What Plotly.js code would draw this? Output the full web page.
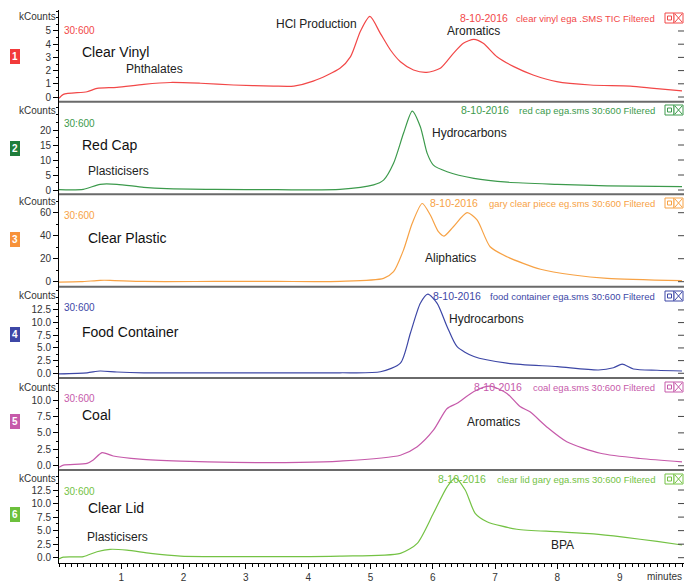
<!DOCTYPE html>
<html>
<head>
<meta charset="utf-8">
<script src="https://cdn.plot.ly/plotly-3.0.1.min.js"></script>
<style>html,body{margin:0;padding:0;background:#fff;}#chart{width:684px;height:583px;}</style>
</head>
<body>
<div id="chart"></div>
<script>
// ---------- DATA (minutes, kCounts) ----------
const vinylT = [0, 0.07, 0.45, 0.61, 0.93, 1.36, 1.79, 2.27, 2.8, 3.44, 3.77, 4.08, 4.51, 4.68, 4.84, 4.99, 5.16, 5.32, 5.48, 5.69, 5.9, 6.12, 6.33, 6.49, 6.66, 6.81, 7.03, 7.3, 7.61, 7.99, 8.53, 9.17, 9.55, 10.0];
const vinylY = [-0.1, 0.2, 0.4, 0.65, 0.73, 0.96, 1.1, 1.04, 0.91, 0.83, 0.83, 1.2, 2.17, 3.06, 5.0, 6.1, 4.8, 3.56, 2.67, 2.05, 1.87, 2.17, 3.3, 4.07, 4.37, 4.07, 3.05, 2.3, 1.67, 1.16, 0.91, 0.83, 0.66, 0.47];

const redcapT = [0, 0.39, 0.66, 0.93, 1.36, 1.73, 2.5, 3.5, 4.51, 5.05, 5.21, 5.37, 5.53, 5.67, 5.8, 5.91, 6.01, 6.23, 6.66, 7.2, 8.0, 8.8, 10.0];
const redcapY = [0.1, 0.2, 1.9, 1.9, 0.9, 0.45, 0.2, 0.1, 0.2, 1.7, 3.3, 8.9, 18.9, 26.3, 21.1, 12.2, 8.3, 6.1, 3.9, 2.6, 1.9, 1.4, 1.1];

const plasticT = [0, 0.35, 0.66, 0.82, 1.36, 2.5, 3.5, 4.51, 5.21, 5.37, 5.53, 5.67, 5.83, 5.96, 6.09, 6.18, 6.33, 6.55, 6.71, 6.92, 7.19, 7.73, 8.26, 8.8, 10.0];
const plasticY = [-0.3, 0, 1.2, 1.2, 0.2, 0.2, 0.2, 0.3, 2.9, 8.7, 27.6, 50.8, 68, 58, 43.5, 39.7, 47.8, 60, 53.7, 30.4, 21.7, 10.8, 5.8, 2.9, 0.9];

const foodT = [0, 0.45, 0.66, 0.93, 1.36, 2.5, 3.5, 4.51, 5.16, 5.48, 5.64, 5.8, 5.92, 6.07, 6.23, 6.39, 6.66, 7.19, 8.0, 8.66, 8.9, 9.04, 9.22, 9.6, 10.0];
const foodY = [-0.1, 0.1, 0.45, 0.25, 0.1, 0.1, 0.1, 0.1, 0.3, 2.0, 7.9, 13.8, 15.6, 13.8, 9.2, 5.25, 3.3, 2.0, 1.3, 0.65, 1.1, 1.8, 0.85, 0.6, 0.45];

const coalT = [0, 0.07, 0.45, 0.55, 0.69, 0.87, 1.3, 1.95, 2.8, 3.87, 4.51, 5.48, 5.75, 6.01, 6.23, 6.39, 6.66, 6.92, 7.19, 7.4, 7.56, 7.83, 8.15, 8.69, 9.33, 10.0];
const coalY = [-0.25, 0.1, 0.36, 0.87, 2.0, 1.48, 1.0, 0.7, 0.5, 0.5, 0.7, 1.6, 2.9, 5.4, 8.7, 9.5, 11.3, 12.1, 11.0, 9.0, 8.2, 5.9, 3.65, 1.9, 1.1, 0.6];

const lidT = [0, 0.07, 0.39, 0.61, 0.82, 1.09, 1.47, 1.95, 3.6, 4.51, 5.48, 5.75, 6.01, 6.23, 6.36, 6.52, 6.68, 6.87, 7.35, 7.99, 8.58, 9.06, 9.6, 10.0];
const lidY = [-0.25, 0.1, 0.2, 1.1, 1.55, 1.4, 0.8, 0.3, 0.2, 0.3, 0.8, 2.65, 8.2, 13.1, 14.7, 12.5, 8.2, 6.65, 5.25, 4.8, 4.4, 3.8, 3.0, 2.35];

const seriesT = [vinylT, redcapT, plasticT, foodT, coalT, lidT];
const seriesY = [vinylY, redcapY, plasticY, foodY, coalY, lidY];

const sampleNames = ["Clear Vinyl", "Red Cap", "Clear Plastic", "Food Container", "Coal", "Clear Lid"];
const fileNames = ["clear vinyl ega .SMS TIC Filtered", "red cap ega.sms 30:600 Filtered",
  "gary clear piece eg.sms 30:600 Filtered", "food container ega.sms 30:600 Filtered",
  "coal ega.sms 30:600 Filtered", "clear lid gary ega.sms 30:600 Filtered"];
const dateLabel = "8-10-2016";
const massRange = "30:600";
const panelNumbers = ["1", "2", "3", "4", "5", "6"];

const yTickVals = [[0,1,2,3,4,5],[0,5,10,15,20],[0,20,40,60],[0,2.5,5,7.5,10,12.5],[0,2.5,5,7.5,10],[0,2.5,5,7.5,10,12.5]];
const xTickVals = [1,2,3,4,5,6,7,8,9];

// peak labels
const peakPanel = [0, 0, 0, 1, 1, 2, 3, 4, 5, 5];
const peakText  = ["HCl Production", "Phthalates", "Aromatics", "Plasticisers", "Hydrocarbons", "Aliphatics", "Hydrocarbons", "Aromatics", "Plasticisers", "BPA"];
const peakX     = [4.13, 1.53, 6.65, 0.95, 6.59, 6.28, 6.86, 6.97, 0.94, 8.08];
const peakY     = [5.53, 2.12, 5.0, 6.33, 19, 20.6, 10.7, 6.65, 3.83, 2.35];

// ---------- STYLE / LAYOUT ----------
const W = 684, H = 583, ML = 59, MR = 0, MT = 10, MB = 20;
const pxX = px => (px - ML) / (W - ML - MR);
const pxY = py => (H - MB - py) / (H - MT - MB);

const lineColors = ["#f24848", "#3c9a4c", "#f7a245", "#3d47a6", "#c65aaa", "#74c244"];
const textColors = ["#f24848", "#3c9a4c", "#f7a245", "#3d47a6", "#c65aaa", "#74c244"];
const boxColors  = ["#f23a3a", "#1f7d3b", "#f7923a", "#3d47a6", "#c65aaa", "#6cc03c"];
const boundsPx = [10, 101.7, 194.3, 286.7, 378, 470, 563];
const yRanges = [[-0.356, 6.59], [-1.43, 29.43], [-4.35, 76.0], [-0.93, 17.08], [-0.65, 13.35], [-0.98, 16.2]];
const yMinor = [0.5, 2.5, 10, 1.25, 1.25, 1.25];
const headerPx = [18, 110, 203, 296, 387, 479];
const kcountsPx = [17, 110, 202, 295, 387, 478];
const datePx = [484, 485, 454, 457, 498, 462];
const namePx = [[80, 52], [80, 145], [86, 238], [80, 332], [80, 415], [86, 508]];
const massPx = [31, 123, 215, 307, 398, 491];
const boxPx = [56, 148, 240, 334, 422, 514];

const FONT = "Liberation Sans, Arial, sans-serif";
const traces = [];
const layout = {
  width: W, height: H,
  margin: {l: ML, r: MR, t: MT, b: MB},
  paper_bgcolor: "#fff", plot_bgcolor: "#fff",
  showlegend: false,
  font: {family: FONT, size: 10, color: "#333"},
  xaxis: {
    range: [0, (W - ML - MR) / 62.3], tickvals: xTickVals, ticktext: xTickVals.map(String),
    showgrid: false, zeroline: false, showline: true, linecolor: "#000", linewidth: 1,
    ticks: "outside", ticklen: 5, tickcolor: "#000", tickfont: {size: 10, color: "#333"},
    minor: {ticks: "outside", dtick: 0.1, tick0: 0, ticklen: 3, tickcolor: "#000"},
    anchor: "y6", fixedrange: true
  },
  annotations: [], shapes: []
};

for (let i = 0; i < 6; i++) {
  const n = i + 1;
  const yk = n === 1 ? "yaxis" : "yaxis" + n;
  const yr = n === 1 ? "y" : "y" + n;
  traces.push({
    x: seriesT[i], y: seriesY[i], type: "scatter", mode: "lines",
    line: {color: lineColors[i], width: 1.2, shape: "spline", smoothing: 0.7},
    xaxis: "x", yaxis: yr, hoverinfo: "skip"
  });
  const fmt = (i >= 3) ? ".1f" : "d";
  layout[yk] = {
    domain: [pxY(boundsPx[i + 1]), pxY(boundsPx[i])],
    range: yRanges[i], tickvals: yTickVals[i], tickformat: fmt,
    showgrid: false, zeroline: false, showline: true, linecolor: "#000", linewidth: 1,
    ticks: "outside", ticklen: 5, tickcolor: "#000", tickfont: {size: 10, color: "#333"},
    minor: {ticks: "outside", dtick: yMinor[i], tick0: 0, ticklen: 2, tickcolor: "#000"},
    anchor: "x", fixedrange: true
  };
  yTickVals[i].forEach(v => {
    layout.shapes.push({type: "line", xref: "paper", yref: yr, x0: pxX(678), x1: pxX(684), y0: v, y1: v,
      line: {color: "#444", width: 1}});
  });
  layout.annotations.push({xref: "paper", yref: "paper", x: 0, y: pxY(kcountsPx[i]), xanchor: "right", yanchor: "middle",
    xshift: -1, text: "kCounts", showarrow: false, font: {size: 10, color: "#333"}});
  layout.annotations.push({xref: "paper", yref: "paper", x: pxX(62), y: pxY(massPx[i]), xanchor: "left", yanchor: "middle",
    text: massRange, showarrow: false, font: {size: 10, color: textColors[i]}});
  layout.annotations.push({xref: "paper", yref: "paper", x: pxX(namePx[i][0]), y: pxY(namePx[i][1]), xanchor: "left", yanchor: "middle",
    text: sampleNames[i], showarrow: false, font: {size: 14, color: "#111"}});
  layout.annotations.push({xref: "paper", yref: "paper", x: pxX(datePx[i]), y: pxY(headerPx[i]), xanchor: "center", yanchor: "middle",
    text: dateLabel, showarrow: false, font: {size: 10.5, color: textColors[i]}});
  layout.annotations.push({xref: "paper", yref: "paper", x: pxX(657), y: pxY(headerPx[i]), xanchor: "right", yanchor: "middle",
    text: fileNames[i], showarrow: false, font: {size: 9.5, color: textColors[i]}});
  layout.annotations.push({xref: "paper", yref: "paper", x: pxX(15), y: pxY(boxPx[i]), xanchor: "center", yanchor: "middle",
    text: "<b>" + panelNumbers[i] + "</b>", showarrow: false, font: {size: 10, color: "#fff"},
    bgcolor: boxColors[i], bordercolor: boxColors[i], borderwidth: 1, borderpad: 1});
  const yc = headerPx[i], h = 5;
  layout.shapes.push({type: "rect", xref: "paper", yref: "paper", x0: pxX(665), x1: pxX(674), y0: pxY(yc + h), y1: pxY(yc - h),
    line: {color: textColors[i], width: 1}, fillcolor: "#fff"});
  layout.shapes.push({type: "rect", xref: "paper", yref: "paper", x0: pxX(667.5), x1: pxX(671.5), y0: pxY(yc + 2), y1: pxY(yc - 2),
    line: {color: textColors[i], width: 1}, fillcolor: "rgba(0,0,0,0)"});
  layout.shapes.push({type: "rect", xref: "paper", yref: "paper", x0: pxX(674), x1: pxX(683), y0: pxY(yc + h), y1: pxY(yc - h),
    line: {color: textColors[i], width: 1}, fillcolor: "#fff"});
  layout.shapes.push({type: "line", xref: "paper", yref: "paper", x0: pxX(675), x1: pxX(682), y0: pxY(yc + h - 1), y1: pxY(yc - h + 1),
    line: {color: textColors[i], width: 1}});
  layout.shapes.push({type: "line", xref: "paper", yref: "paper", x0: pxX(675), x1: pxX(682), y0: pxY(yc - h + 1), y1: pxY(yc + h - 1),
    line: {color: textColors[i], width: 1}});
}
for (let k = 1; k <= 5; k++) {
  layout.shapes.push({type: "line", xref: "paper", yref: "paper", x0: 0, x1: 1, y0: pxY(boundsPx[k]), y1: pxY(boundsPx[k]),
    line: {color: "#6a6a6a", width: 2}, layer: "below"});
}
for (let j = 0; j < peakText.length; j++) {
  const p = peakPanel[j] + 1;
  layout.annotations.push({xref: "x", yref: p === 1 ? "y" : "y" + p, x: peakX[j], y: peakY[j],
    xanchor: "center", yanchor: "middle", text: peakText[j], showarrow: false, font: {size: 12, color: "#222"}});
}
layout.annotations.push({xref: "paper", yref: "paper", x: 1, y: pxY(576), xanchor: "right", yanchor: "middle",
  text: "minutes", showarrow: false, font: {size: 10, color: "#333"}});

Plotly.newPlot("chart", traces, layout, {staticPlot: true, displayModeBar: false});
</script>
</body>
</html>
